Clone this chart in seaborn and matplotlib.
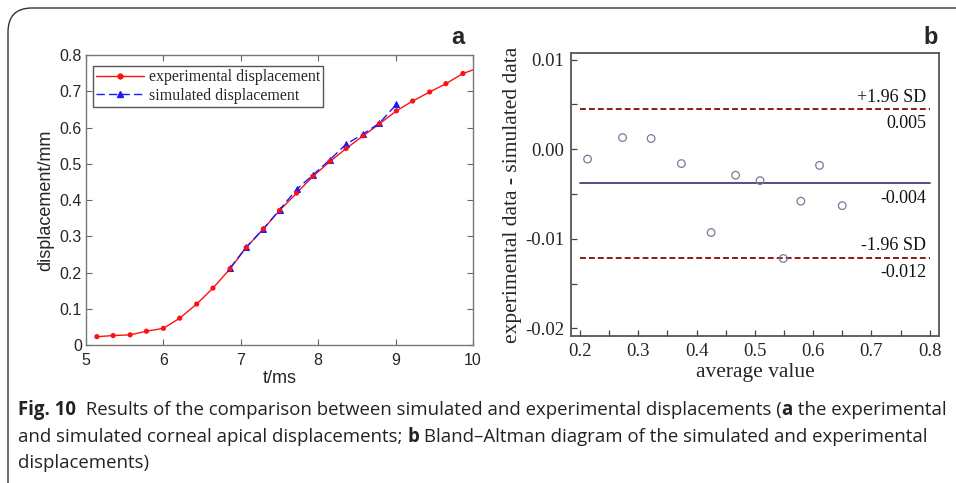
import numpy as np
import pandas as pd
import matplotlib
matplotlib.use("Agg")
import matplotlib.pyplot as plt
import seaborn as sns
from matplotlib.patches import FancyBboxPatch
from matplotlib.lines import Line2D

# ---------------- data ----------------
t_exp = [5.14, 5.35, 5.57, 5.78, 6.00, 6.21, 6.43, 6.64, 6.86, 7.07, 7.29, 7.50,
         7.72, 7.93, 8.15, 8.36, 8.58, 8.79, 9.01, 9.22, 9.44, 9.65, 9.87]
d_exp = [0.023, 0.026, 0.028, 0.038, 0.046, 0.074, 0.113, 0.157, 0.210, 0.269,
         0.320, 0.371, 0.419, 0.465, 0.506, 0.542, 0.577, 0.610, 0.646, 0.673,
         0.698, 0.721, 0.749]
t_end = [10.0]
d_end = [0.759]
t_sim = [6.86, 7.07, 7.29, 7.50, 7.72, 7.93, 8.15, 8.36, 8.58, 8.79, 9.01]
d_sim = [0.212, 0.270, 0.320, 0.373, 0.429, 0.469, 0.511, 0.554, 0.582, 0.612, 0.664]

ba_avg = [0.213, 0.273, 0.322, 0.374, 0.425, 0.467, 0.509, 0.549, 0.579, 0.611, 0.650]
ba_diff = [-0.0011, 0.0013, 0.0012, -0.0016, -0.0093, -0.0029, -0.0035, -0.0122,
           -0.0058, -0.0018, -0.0063]
ba_mean = -0.0038
ba_upper = 0.0045
ba_lower = -0.0121
lbl_upper = ["+1.96 SD", "0.005"]
lbl_mean = "-0.004"
lbl_lower = ["-1.96 SD", "-0.012"]

a_xticks = [5, 6, 7, 8, 9, 10]
a_yticks = [0, 0.1, 0.2, 0.3, 0.4, 0.5, 0.6, 0.7, 0.8]
b_xticks = [0.2, 0.3, 0.4, 0.5, 0.6, 0.7, 0.8]
b_yticks = [0.01, 0.0, -0.01, -0.02]
b_yticklabels = ["0.01", "0.00", "-0.01", "-0.02"]

caption = [
    [("Fig. 10", True), ("  Results of the comparison between simulated and experimental displacements (", False),
     ("a", True), (" the experimental", False)],
    [("and simulated corneal apical displacements; ", False), ("b", True),
     (" Bland\u2013Altman diagram of the simulated and experimental", False)],
    [("displacements)", False)],
]

# ---------------- style ----------------
sns.set_style("ticks")
plt.rcParams['font.family'] = ['Liberation Sans', 'DejaVu Sans']
SERIF = ['Liberation Serif', 'DejaVu Serif']
SANS = ['Liberation Sans', 'DejaVu Sans']
CAP = ['Open Sans', 'DejaVu Sans']

fig = plt.figure(figsize=(9.56, 4.83), dpi=100)

# border box
border = FancyBboxPatch((8 / 956, -0.2), 1.2, (483 - 8) / 483 + 0.2,
                        boxstyle="round,pad=0,rounding_size=0.025",
                        transform=fig.transFigure, fill=False,
                        edgecolor="#333333", linewidth=1.0, mutation_aspect=2.0)
fig.patches.append(border)

# ---------------- panel a ----------------
axa = fig.add_axes([0.0900, 0.2857, 0.4048, 0.6004])
df_exp = pd.DataFrame({"t": t_exp + t_end, "d": d_exp + d_end})
sns.lineplot(data=df_exp, x="t", y="d", ax=axa, color="#ff1010", linewidth=1.0,
             estimator=None, sort=False)
sns.scatterplot(x=t_exp, y=d_exp, ax=axa, color="#ff1010", s=14, edgecolor="none",
                zorder=3)
df_sim = pd.DataFrame({"t": t_sim, "d": d_sim})
sns.lineplot(data=df_sim, x="t", y="d", ax=axa, color="#1a1aff", linewidth=1.0,
             dashes=False, linestyle=(0, (6, 3)), marker="^", markersize=5,
             markeredgecolor="#1a1aff", estimator=None, sort=False)
axa.set_xlim(5, 10)
axa.set_ylim(0, 0.8)
axa.set_xticks(a_xticks)
axa.set_xticklabels([str(v) for v in a_xticks])
axa.set_yticks(a_yticks)
axa.set_yticklabels(["0"] + ["%.1f" % v for v in a_yticks[1:]])
axa.tick_params(direction="in", top=True, right=True, length=4, width=0.8,
                color="#666666", labelsize=11.5)
axa.tick_params(axis="x", pad=6)
axa.tick_params(axis="y", pad=3)
for lab in axa.get_xticklabels() + axa.get_yticklabels():
    lab.set_family(SANS)
for s in axa.spines.values():
    s.set_visible(True)
    s.set_color("#777777")
    s.set_linewidth(1.0)
axa.set_xlabel("t/ms", fontsize=13, family=SANS, labelpad=1)
axa.set_ylabel("displacement/mm", fontsize=13, family=SANS, labelpad=4)
h1 = Line2D([], [], color="#ff1010", lw=1.0, marker="o", markersize=3.5)
h2 = Line2D([], [], color="#1a1aff", lw=1.0, linestyle=(0, (6, 3)), marker="^", markersize=5)
leg = axa.legend([h1, h2], ["experimental displacement", "simulated displacement"],
                 loc="upper left", bbox_to_anchor=(0.018, 0.962), frameon=True,
                 fancybox=False, edgecolor="#555555", framealpha=1,
                 prop={"family": SERIF, "size": 11.5}, handlelength=3.0,
                 handletextpad=0.3, borderpad=0.2, labelspacing=0.15,
                 borderaxespad=0)
leg.get_frame().set_linewidth(1.0)
fig.text(464 / 956, 1 - 37 / 483, "a", fontsize=17, fontweight="bold",
         ha="right", va="center", family=SANS)

# ---------------- panel b ----------------
axb = fig.add_axes([0.5973, 0.3043, 0.3849, 0.5860])
line_x = [0.2, 0.8]
axb.plot(line_x, [ba_upper] * 2, color="#8b1a1a", lw=1.4, linestyle=(0, (3, 1.6)))
axb.plot(line_x, [ba_lower] * 2, color="#8b1a1a", lw=1.4, linestyle=(0, (3, 1.6)))
axb.plot(line_x, [ba_mean] * 2, color="#30307a", lw=1.2)
sns.scatterplot(x=ba_avg, y=ba_diff, ax=axb, s=30, facecolor="none",
                edgecolor="#7a7a98", linewidth=0.9, zorder=4)
axb.set_xlim(0.1846, 0.816)
axb.set_ylim(-0.02086, 0.01075)
axb.set_xticks(b_xticks)
axb.set_xticklabels(["%.1f" % v for v in b_xticks])
axb.set_xticks([0.25, 0.35, 0.45, 0.55, 0.65, 0.75], minor=True)
axb.set_yticks(b_yticks)
axb.set_yticklabels(b_yticklabels)
axb.set_yticks([0.005, -0.005, -0.015], minor=True)
axb.tick_params(which="both", direction="in", length=4, width=0.9,
                color="#444444", labelsize=13.5, pad=5)
for lab in axb.get_xticklabels() + axb.get_yticklabels():
    lab.set_family(SERIF)
for s in axb.spines.values():
    s.set_visible(True)
    s.set_color("#555555")
    s.set_linewidth(1.3)
axb.set_xlabel("average value", fontsize=15.5, family=SERIF, labelpad=2)
axb.set_ylabel("experimental data - simulated data", fontsize=15.5, family=SERIF,
               labelpad=2)
tx = 0.794
kw = dict(ha="right", va="center", fontsize=13, family=SERIF, color="#111111")
axb.text(tx, 0.0058, lbl_upper[0], **kw)
axb.text(tx, 0.0029, lbl_upper[1], **kw)
axb.text(tx, -0.00547, lbl_mean, **kw)
axb.text(tx, -0.0108, lbl_lower[0], **kw)
axb.text(tx, -0.01374, lbl_lower[1], **kw)
fig.text(938 / 956, 1 - 37 / 483, "b", fontsize=17, fontweight="bold",
         ha="right", va="center", family=SANS)

# ---------------- caption ----------------
fig.canvas.draw()
renderer = fig.canvas.get_renderer()
line_y = [410, 437, 463]
for parts, ypx in zip(caption, line_y):
    x = 18
    for txt, bold in parts:
        t = fig.text(x / 956, 1 - ypx / 483, txt, fontsize=13.4, family=CAP,
                     fontweight="bold" if bold else "normal", ha="left",
                     va="center", color="#222222")
        bb = t.get_window_extent(renderer=renderer)
        x += bb.width

fig.savefig("out.png", dpi=100)
